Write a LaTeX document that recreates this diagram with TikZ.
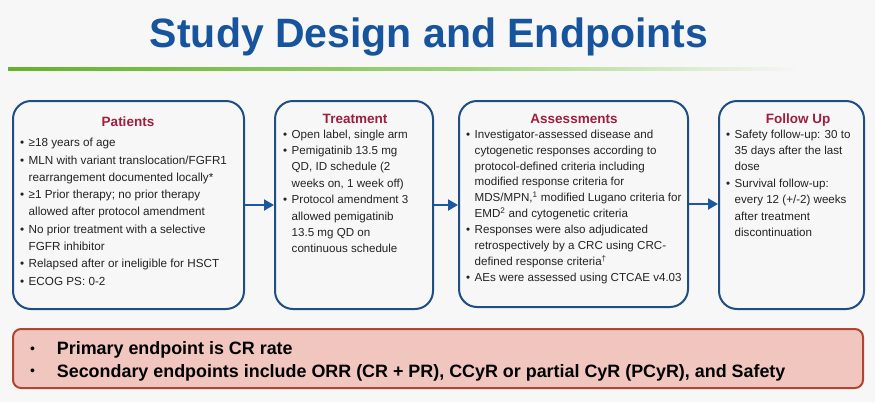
\documentclass[tikz,border=0pt]{standalone}
\usepackage{fontspec}
\setmainfont{Liberation Sans}
\usetikzlibrary{arrows.meta}
\definecolor{bgcol}{RGB}{247,247,247}
\definecolor{titleblue}{RGB}{22,84,158}
\definecolor{boxblue}{RGB}{30,78,132}
\definecolor{arrowblue}{RGB}{28,88,160}
\definecolor{headred}{RGB}{160,30,60}
\definecolor{bodytxt}{RGB}{35,35,35}
\definecolor{greenA}{RGB}{100,178,40}
\definecolor{greenB}{RGB}{160,210,120}
\definecolor{endfill}{RGB}{240,198,190}
\definecolor{endline}{RGB}{175,70,50}
\newcommand\bu{\makebox[8.5pt][l]{\textbullet}}
\newcommand\bigbu{\makebox[26.7pt][l]{\mdseries\fontsize{14}{14}\selectfont\raisebox{1.2pt}{\textbullet}}}
\tikzset{
  stagebox/.style={draw=boxblue, line width=2pt, rounded corners=18pt, anchor=north west, inner sep=0pt},
  headtxt/.style={text=headred, font=\fontsize{13.5}{16}\selectfont\bfseries, anchor=base, inner sep=0pt},
  listtxt/.style={text=bodytxt, anchor=north west, inner sep=0pt},
  flow/.style={draw=arrowblue, line width=2pt, -{Triangle[length=10pt,width=11pt]}},
}
\begin{document}
\begin{tikzpicture}[x=1pt,y=-1pt]
\useasboundingbox (0,0) rectangle (875,402);
\fill[bgcol] (0,0) rectangle (875,402);
% title
\node[anchor=base, text=titleblue, font=\fontsize{41}{48}\selectfont\bfseries, inner sep=0pt] (title) at (429,47) {Study Design and Endpoints};
% green rule
\fill[left color=greenA, right color=greenB] (8,67.5) rectangle (450,70.5);
\fill[left color=greenB, right color=bgcol] (450,67.5) rectangle (800,70.5);
% stage boxes
\node[stagebox, minimum width=231pt, minimum height=208pt] (pat) at (12,100) {};
\node[stagebox, minimum width=158pt, minimum height=208pt] (trt) at (274,100) {};
\node[stagebox, minimum width=229pt, minimum height=206pt] (ass) at (458,100) {};
\node[stagebox, minimum width=145pt, minimum height=208pt] (fol) at (718,100) {};
% headings
\node[headtxt] (pathead) at (128,126) {Patients};
\node[headtxt] (trthead) at (355,123) {Treatment};
\node[headtxt] (asshead) at (574,123) {Assessments};
\node[headtxt] (folhead) at (798,123) {Follow Up};
% lists
\node[listtxt, font=\fontsize{11.7}{17.3}\selectfont] (patlist) at (20,134.4) {%
\begin{tabular}{@{}l@{}l@{}}
\bu & ≥18 years of age\\
\bu & MLN with variant translocation/FGFR1\\
 & rearrangement documented locally*\\
\bu & ≥1 Prior therapy; no prior therapy\\
 & allowed after protocol amendment\\
\bu & No prior treatment with a selective\\
 & FGFR inhibitor\\
\bu & Relapsed after or ineligible for HSCT\\
\bu & ECOG PS: 0-2
\end{tabular}};
\node[listtxt, font=\fontsize{11.6}{16.4}\selectfont] (trtlist) at (283,126.5) {%
\begin{tabular}{@{}l@{}l@{}}
\bu & Open label, single arm\\
\bu & Pemigatinib 13.5 mg\\
 & QD, ID schedule (2\\
 & weeks on, 1 week off)\\
\bu & Protocol amendment 3\\
 & allowed pemigatinib\\
 & 13.5 mg QD on\\
 & continuous schedule
\end{tabular}};
\node[listtxt, font=\fontsize{11.6}{15.9}\selectfont] (asslist) at (466,126.9) {%
\begin{tabular}{@{}l@{}l@{}}
\bu & Investigator-assessed disease and\\
 & cytogenetic responses according to\\
 & protocol-defined criteria including\\
 & modified response criteria for\\
 & MDS/MPN,\textsuperscript{1} modified Lugano criteria for\\
 & EMD\textsuperscript{2} and cytogenetic criteria\\
\bu & Responses were also adjudicated\\
 & retrospectively by a CRC using CRC-\\
 & defined response criteria\textsuperscript{†}\\
\bu & AEs were assessed using CTCAE v4.03
\end{tabular}};
\node[listtxt, font=\fontsize{11.6}{16.4}\selectfont] (follist) at (726,126.5) {%
\begin{tabular}{@{}l@{}l@{}}
\bu & Safety follow-up: 30 to\\
 & 35 days after the last\\
 & dose\\
\bu & Survival follow-up:\\
 & every 12 (+/-2) weeks\\
 & after treatment\\
 & discontinuation
\end{tabular}};
% arrows
\draw[flow] (pat.east) -- (pat.east -| trt.west);
\draw[flow] (trt.east) -- (trt.east -| ass.west);
\draw[flow] (ass.east) -- (ass.east -| fol.west);
% endpoints box
\node[anchor=north west, minimum width=850pt, minimum height=59pt, inner sep=0pt, draw=endline, line width=2pt, fill=endfill, rounded corners=8pt] (ep) at (12,328) {};
\node[listtxt, font=\fontsize{17.9}{22.5}\selectfont\bfseries, text=black] (eplist) at (30,338.7) {%
\begin{tabular}{@{}l@{}l@{}}
\bigbu & Primary endpoint is CR rate\\
\bigbu & Secondary endpoints include ORR (CR + PR), CCyR or partial CyR (PCyR), and Safety
\end{tabular}};
\end{tikzpicture}
\end{document}
